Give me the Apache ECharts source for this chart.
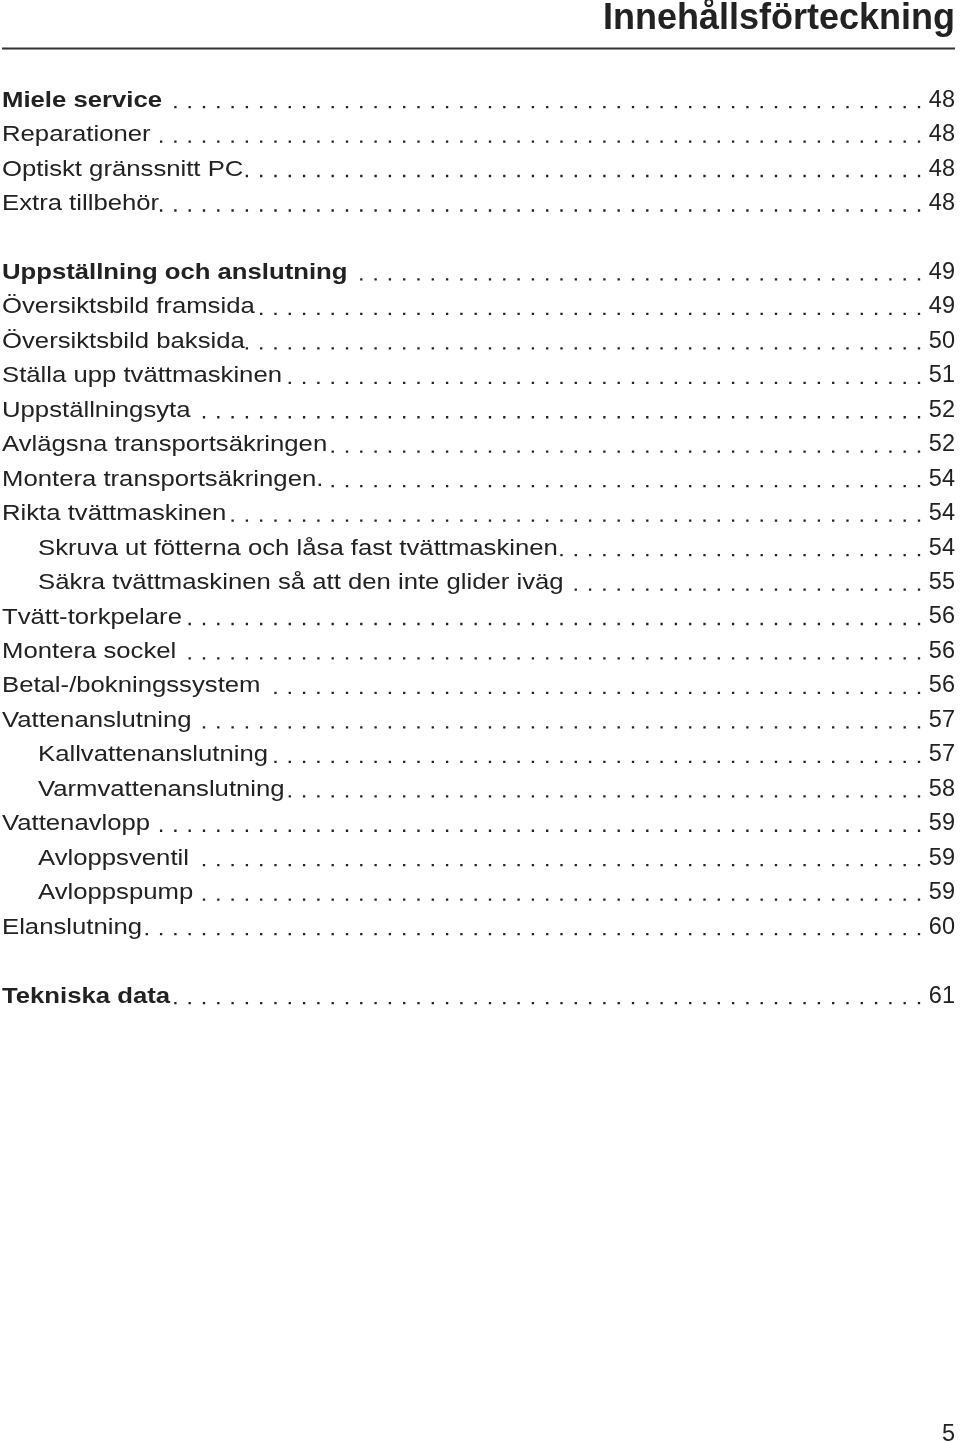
<!DOCTYPE html>
<html>
<head>
<meta charset="utf-8">
<script src="https://cdn.jsdelivr.net/npm/echarts@6/dist/echarts.min.js"></script>
<style>
  html, body { margin: 0; padding: 0; background: #fff; }
</style>
</head>
<body>
<div id="toc" style="width: 960px; height: 1442px;"></div>
<script>
// innehållsförteckningen: rubrik, sidnummer, nivå (0 = huvudrad, 1 = indragen), fet stil
const heading = 'Innehållsförteckning';
const pageNumber = '5';

const titles = [
  'Miele service', 'Reparationer', 'Optiskt gränssnitt PC', 'Extra tillbehör',
  'Uppställning och anslutning', 'Översiktsbild framsida', 'Översiktsbild baksida',
  'Ställa upp tvättmaskinen', 'Uppställningsyta', 'Avlägsna transportsäkringen',
  'Montera transportsäkringen.', 'Rikta tvättmaskinen',
  'Skruva ut fötterna och låsa fast tvättmaskinen',
  'Säkra tvättmaskinen så att den inte glider iväg',
  'Tvätt-torkpelare', 'Montera sockel', 'Betal-/bokningssystem', 'Vattenanslutning',
  'Kallvattenanslutning', 'Varmvattenanslutning', 'Vattenavlopp', 'Avloppsventil',
  'Avloppspump', 'Elanslutning', 'Tekniska data'
];
const pages  = [48, 48, 48, 48, 49, 49, 50, 51, 52, 52, 54, 54, 54, 55, 56, 56, 56, 57, 57, 58, 59, 59, 59, 60, 61];
const levels = [0, 0, 0, 0, 0, 0, 0, 0, 0, 0, 0, 0, 1, 1, 0, 0, 0, 0, 1, 1, 0, 1, 1, 0, 0];
const bold   = [1, 0, 0, 0, 1, 0, 0, 0, 0, 0, 0, 0, 0, 0, 0, 0, 0, 0, 0, 0, 0, 0, 0, 0, 1];
// radnummer (tomma rader mellan avsnitten)
const rows   = [0, 1, 2, 3, 5, 6, 7, 8, 9, 10, 11, 12, 13, 14, 15, 16, 17, 18, 19, 20, 21, 22, 23, 24, 26];

const INK = '#222';
const FAMILY = '"Liberation Sans", Arial, sans-serif';
const FONT_SIZE = 22;
const NUM_SIZE = 23.5;
const SX = 1.168;          // bredare typsnitt i originalet
const TEXT_X = 2;
const INDENT = 36;
const PAGE_X = 955;
const DOT_END = 919;       // sista punktens mitt
const DOT_STEP = 14.3;
const DOT_W = 2.3;

const ctx = document.createElement('canvas').getContext('2d');
function textWidth(t, weight) {
  ctx.font = weight + ' ' + FONT_SIZE + 'px ' + FAMILY;
  return ctx.measureText(t).width;
}

function renderItem(params, api) {
  const i = params.dataIndex;
  const row = api.value(0);
  const page = api.value(1);
  const lvl = api.value(2);
  const weight = api.value(3) === 1 ? 'bold' : 'normal';
  const label = titles[i];

  const left = api.coord([TEXT_X + lvl * INDENT, row]);
  const right = api.coord([PAGE_X, row]);
  const textEnd = left[0] + textWidth(label, weight) * SX;
  const n = Math.floor((DOT_END - textEnd - 2) / DOT_STEP);
  const firstDot = DOT_END - n * DOT_STEP;
  const dotY = left[1] + 6.5;

  return {
    type: 'group',
    children: [
      {
        type: 'text', x: left[0], y: left[1], scaleX: SX,
        style: { text: label, fontSize: FONT_SIZE, fontFamily: FAMILY, fontWeight: weight,
                 fill: INK, align: 'left', verticalAlign: 'middle' }
      },
      {
        type: 'line',
        shape: { x1: DOT_END + DOT_W / 2, y1: dotY, x2: firstDot - DOT_W / 2 - 0.1, y2: dotY },
        style: { stroke: INK, lineWidth: DOT_W, lineDash: [DOT_W, DOT_STEP - DOT_W] }
      },
      {
        type: 'text', x: right[0], y: right[1] - 0.5,
        style: { text: String(page), fontSize: NUM_SIZE, fontFamily: FAMILY,
                 fill: INK, align: 'right', verticalAlign: 'middle' }
      }
    ]
  };
}

const chart = echarts.init(document.getElementById('toc'), null, { renderer: 'canvas' });
chart.setOption({
  backgroundColor: '#fff',
  animation: false,
  grid: { left: 0, right: 0, top: 100.6, height: 34.46 * 26 },
  xAxis: { type: 'value', min: 0, max: 960, show: false },
  yAxis: { type: 'value', min: 0, max: 26, inverse: true, show: false },
  graphic: [
    {
      type: 'text', x: 955, y: 19,
      style: { text: heading, fontSize: 36, fontWeight: 'bold', fontFamily: FAMILY,
               fill: INK, align: 'right', verticalAlign: 'middle' }
    },
    {
      type: 'line',
      shape: { x1: 2, y1: 48.5, x2: 955, y2: 48.5 },
      style: { stroke: '#333', lineWidth: 2 }
    },
    {
      type: 'text', x: 955, y: 1435,
      style: { text: pageNumber, fontSize: NUM_SIZE, fontFamily: FAMILY,
               fill: INK, align: 'right', verticalAlign: 'middle' }
    }
  ],
  series: [{
    type: 'custom',
    renderItem: renderItem,
    data: rows.map((r, i) => [r, pages[i], levels[i], bold[i]]),
    encode: { x: 1, y: 0 },
    silent: true
  }]
});
</script>
</body>
</html>
